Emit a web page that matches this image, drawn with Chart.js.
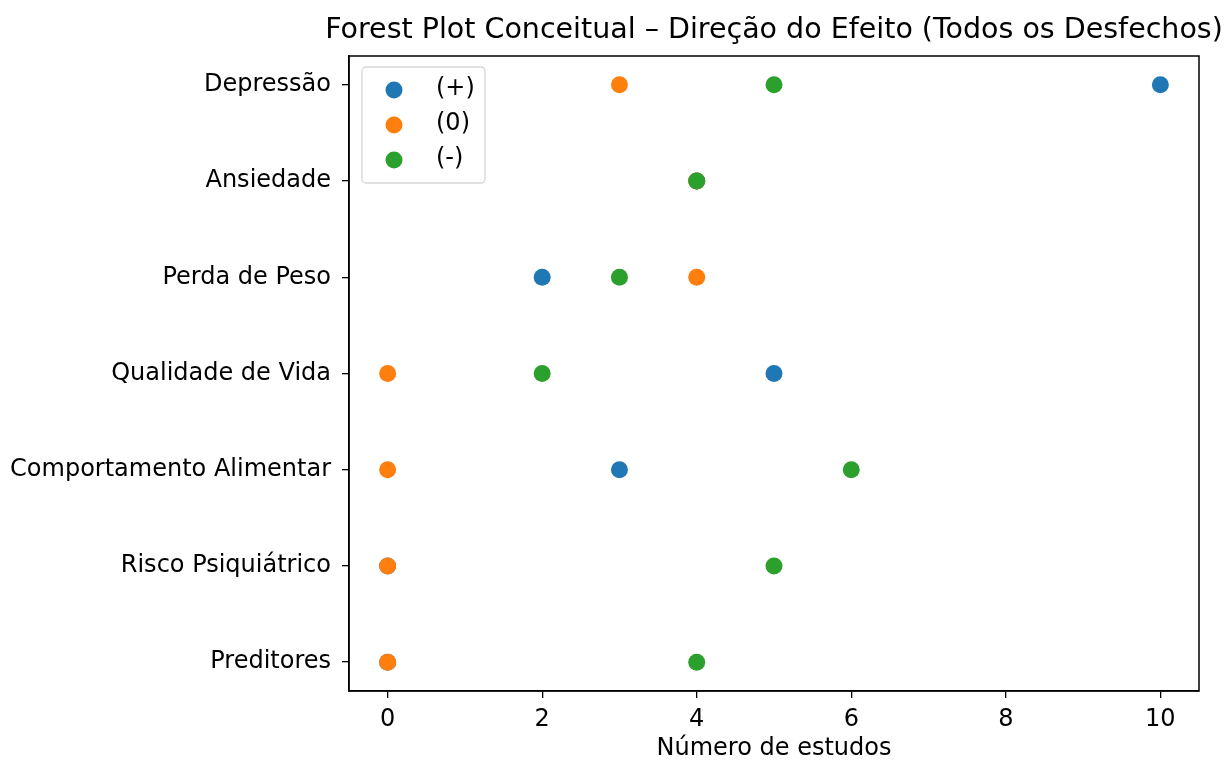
<!DOCTYPE html>
<html>
<head>
<meta charset="utf-8">
<script src="https://cdn.jsdelivr.net/npm/chart.js@4.4.1/dist/chart.umd.min.js"></script>
<style>
html,body{margin:0;padding:0;background:#fff;}
#wrap{width:1226px;height:762px;position:relative;}
</style>
</head>
<body>
<div id="wrap"><canvas id="c" width="1226" height="762"></canvas></div>
<script>
const categories = ["Depressão","Ansiedade","Perda de Peso","Qualidade de Vida","Comportamento Alimentar","Risco Psiquiátrico","Preditores"];
const seriesNames = ["(+)","(0)","(-)"];
const positiveValues = [10, 4, 2, 5, 3, 0, 0];
const neutralValues  = [3, 4, 4, 0, 0, 0, 0];
const negativeValues = [5, 4, 3, 2, 6, 5, 4];
const xTicks = [0, 2, 4, 6, 8, 10];
const colors = ["#1f77b4", "#ff7f0e", "#2ca02c"];
const titleText = "Forest Plot Conceitual – Direção do Efeito (Todos os Desfechos)";
const xLabel = "Número de estudos";

const FONT = "'DejaVu Sans', sans-serif";
const toPoints = vals => vals.map((v, i) => ({x: v, y: i}));
const allSeries = [positiveValues, neutralValues, negativeValues];

const datasets = allSeries.map((vals, k) => ({
  label: seriesNames[k],
  data: toPoints(vals),
  backgroundColor: colors[k],
  borderColor: colors[k],
  borderWidth: 0,
  pointRadius: 8.5,
  pointHoverRadius: 8.5,
  order: 3 - k
}));

const decor = {
  id: 'decor',
  afterDraw(chart) {
    const ctx = chart.ctx, a = chart.chartArea;
    ctx.save();
    ctx.strokeStyle = '#000';
    ctx.lineWidth = 1.5;
    ctx.strokeRect(a.left, a.top, a.right - a.left, a.bottom - a.top);
    // title
    ctx.fillStyle = '#000';
    ctx.font = "28.5px " + FONT;
    ctx.textAlign = 'center';
    ctx.textBaseline = 'middle';
    ctx.fillText(titleText, (a.left + a.right) / 2, 31);
    // x label
    ctx.font = "24px " + FONT;
    ctx.fillText(xLabel, (a.left + a.right) / 2, 749);
    // legend
    const lx = 362, ly = 67, lw = 123, lh = 116;
    ctx.beginPath();
    if (ctx.roundRect) ctx.roundRect(lx, ly, lw, lh, 4); else ctx.rect(lx, ly, lw, lh);
    ctx.fillStyle = 'rgba(255,255,255,0.8)';
    ctx.fill();
    ctx.strokeStyle = '#d6d6d6';
    ctx.lineWidth = 1.3;
    ctx.stroke();
    seriesNames.forEach((n, k) => {
      const y = 90 + k * 35;
      ctx.beginPath();
      ctx.arc(394, y, 8.5, 0, Math.PI * 2);
      ctx.fillStyle = colors[k];
      ctx.fill();
      ctx.fillStyle = '#000';
      ctx.textAlign = 'left';
      ctx.font = "24px " + FONT;
      ctx.fillText(n, 436, y - 1);
    });
    ctx.restore();
  }
};

new Chart(document.getElementById('c'), {
  type: 'scatter',
  data: { datasets },
  options: {
    responsive: false,
    animation: false,
    devicePixelRatio: 1,
    layout: { padding: { top: 56, right: 27, left: 0, bottom: 0 } },
    plugins: { legend: { display: false }, tooltip: { enabled: false }, title: { display: false } },
    scales: {
      x: {
        type: 'linear', min: -0.5, max: 10.5,
        afterBuildTicks: s => { s.ticks = xTicks.map(v => ({value: v})); },
        afterFit: s => { s.height = 71; },
        grid: { drawOnChartArea: false, drawTicks: true, tickLength: 7, color: '#000', lineWidth: 1.3 },
        border: { display: true, color: '#000', width: 1.5 },
        ticks: { color: '#000', font: { family: FONT, size: 24 }, padding: 7, maxRotation: 0, autoSkip: false }
      },
      y: {
        type: 'linear', min: -0.3, max: 6.3, reverse: true,
        afterBuildTicks: s => { s.ticks = categories.map((c, i) => ({value: i})); },
        afterFit: s => { s.width = 349; },
        grid: { drawOnChartArea: false, drawTicks: true, tickLength: 7, color: '#000', lineWidth: 1.3 },
        border: { display: true, color: '#000', width: 1.5 },
        ticks: { color: '#000', font: { family: FONT, size: 24 }, padding: 11, autoSkip: false,
          callback: v => categories[v] }
      }
    }
  },
  plugins: [decor]
});
</script>
</body>
</html>
